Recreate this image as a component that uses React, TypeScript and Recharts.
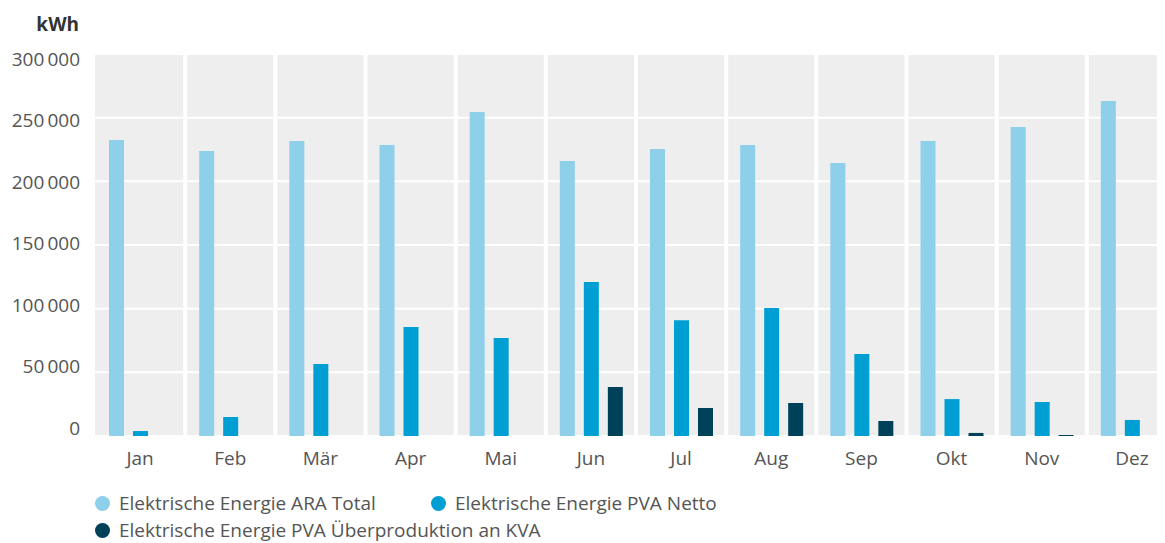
import { Bar, BarChart, CartesianGrid, XAxis, YAxis } from "recharts"

const months = ["Jan", "Feb", "Mär", "Apr", "Mai", "Jun", "Jul", "Aug", "Sep", "Okt", "Nov", "Dez"]
const araTotal = [232500, 223800, 231700, 228500, 254400, 216000, 225400, 228500, 214400, 231700, 242700, 263000]
const pvaNetto = [3900, 14900, 56500, 85600, 77000, 121000, 91000, 100500, 64400, 29000, 26700, 12600]
const pvaUeber = [0, 0, 0, 0, 0, 38500, 22000, 25900, 11800, 2400, 800, 0]
const yTicks = [0, 50000, 100000, 150000, 200000, 250000, 300000]

const seriesNames = [
  "Elektrische Energie ARA Total",
  "Elektrische Energie PVA Netto",
  "Elektrische Energie PVA Überproduktion an KVA",
]
const colors = ["#8ecfea", "#009fd3", "#00415a"]

const data = months.map((m, i) => ({
  month: m,
  ara: araTotal[i],
  netto: pvaNetto[i],
  ueber: pvaUeber[i],
}))

const font = "'Open Sans', sans-serif"

function fmt(v: number) {
  return String(v).replace(/\B(?=(\d{3})+(?!\d))/g, "\u2009")
}

function YTick(props: any) {
  const { x, y, payload } = props
  // labels sit a bit off their gridlines in the original
  const dy = -8 + ((428 - y) * 13) / 382
  return (
    <text x={x - 8} y={y + dy} dy="0.36em" textAnchor="end" fill="#555" fontSize={19} fontFamily={font}>
      {fmt(payload.value)}
    </text>
  )
}

const bandLines = ({ offset }: any) => {
  const out: number[] = []
  for (let i = 1; i < months.length; i++) out.push(offset.left + (offset.width * i) / months.length)
  return out
}

export default function App() {
  return (
    <div style={{ position: "relative", width: 1157, height: 535, overflow: "hidden", fontFamily: font }}>
      <div style={{ position: "absolute", right: 1157 - 71, top: 3, fontSize: 19, fontWeight: 700, color: "#333" }}>kWh</div>
      <BarChart
        width={1174}
        height={468}
        data={data}
        margin={{ top: 46, right: 5, bottom: 0, left: 0 }}
        barCategoryGap="15%"
        barGap={9}
        barSize={15}
      >
        <CartesianGrid
          fill="#eeeeee"
          stroke="#ffffff"
          verticalCoordinatesGenerator={bandLines}
          strokeWidth={2}
        />
        <CartesianGrid
          fill="none"
          horizontal={false}
          stroke="#ffffff"
          strokeWidth={4}
          verticalCoordinatesGenerator={bandLines}
        />
        <XAxis
          dataKey="month"
          axisLine={false}
          tickLine={false}
          tickMargin={10}
          height={40}
          tick={{ fill: "#555", fontSize: 19, fontFamily: font }}
        />
        <YAxis
          width={87}
          domain={[0, 300000]}
          ticks={yTicks}
          axisLine={false}
          tickLine={false}
          tickMargin={1}
          tick={<YTick />}
        />
        <Bar dataKey="ara" name={seriesNames[0]} fill={colors[0]} isAnimationActive={false} />
        <Bar dataKey="netto" name={seriesNames[1]} fill={colors[1]} isAnimationActive={false} />
        <Bar dataKey="ueber" name={seriesNames[2]} fill={colors[2]} isAnimationActive={false} />
      </BarChart>
      {seriesNames.map((name, i) => {
        const left = i === 1 ? 423 : 87
        const top = i === 2 ? 512 : 485
        return (
          <div
            key={name}
            style={{ position: "absolute", left, top, display: "flex", alignItems: "center", fontSize: 19, color: "#555", lineHeight: "20px", whiteSpace: "nowrap" }}
          >
            <span style={{ width: 15, height: 15, borderRadius: "50%", background: colors[i], display: "inline-block", marginRight: 9 }} />
            {name}
          </div>
        )
      })}
    </div>
  )
}
